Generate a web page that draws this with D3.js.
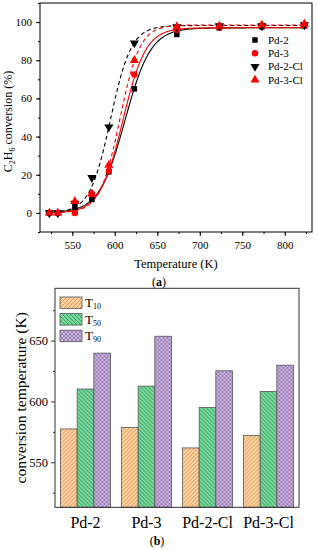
<!DOCTYPE html>
<html>
<head>
<meta charset="utf-8">
<script src="https://cdn.jsdelivr.net/npm/d3@7"></script>
<style>
body{margin:0;background:#fff}
svg, svg text{font-family:"Liberation Serif","Times New Roman",serif}
</style>
</head>
<body>
<svg id="chart" width="317" height="550"></svg>
<script>
// (a) conversion curves
const temps=[523,533,553,573,593,623,673,723,773,823];
const pd2=[0,0,3,7,21.5,65,93.5,97,97.5,98];
const pd3=[0,0,0,10,22,72.5,96,97,98,98];
const pd2cl=[0,0,5,18.5,45,89,97.5,98,98,98.5];
const pd3cl=[0,0,6,10,25,80,97.5,98,98.5,99];
const seriesNames=["Pd-2","Pd-3","Pd-2-Cl","Pd-3-Cl"];
// Boltzmann fit parameters
const fitTop=[97,97,98.2,98.5];
const fitX0=[612,609.5,595,606];
const fitDx=[15.2,13.5,12.2,11.8];

// (b) conversion temperatures
const samples=["Pd-2","Pd-3","Pd-2-Cl","Pd-3-Cl"];
const tKeys=["T10","T50","T90"];
const t10=[577.4,578.7,561.8,572.1];
const t50=[610.2,612.6,595.1,608.2];
const t90=[639.7,653.6,625.2,629.8];

const FONT='"Liberation Serif","Times New Roman",serif';
const svg=d3.select("#chart");
const defs=svg.append("defs");

function hatch(id,bg,col,d){
  const p=defs.append("pattern").attr("id",id).attr("patternUnits","userSpaceOnUse").attr("width",4).attr("height",4);
  p.append("rect").attr("width",4).attr("height",4).attr("fill",bg);
  p.append("path").attr("d",d).attr("stroke",col).attr("stroke-width",0.8).attr("fill","none");
}
hatch("p10","#FFD09C","#D48F55","M-1,1l2,-2M0,4l4,-4M3,5l2,-2");
hatch("p50","#76D79A","#2E8953","M-1,3l2,2M0,0l4,4M3,-1l2,2");
hatch("p90","#CFB7E3","#8B70A8","M-1,1l2,-2M0,4l4,-4M3,5l2,-2M-1,3l2,2M0,0l4,4M3,-1l2,2");

function styleAxis(g,size){
  g.select(".domain").remove();
  g.attr("font-family",FONT).attr("font-size",size);
  g.selectAll("text").attr("fill","#000");
}

// ---------- chart (a) ----------
const ax={l:40,r:312,t:3,b:232};
const x=d3.scaleLinear().domain([512,832]).range([ax.l,ax.r]);
const y=d3.scaleLinear().domain([-10,110]).range([ax.b,ax.t]);
const ga=svg.append("g");

ga.append("g").attr("transform","translate(0,"+ax.b+")")
  .call(d3.axisBottom(x).tickValues(d3.range(525,826,25)).tickSize(2).tickFormat(""))
  .call(styleAxis,11);
ga.append("g").attr("transform","translate(0,"+ax.b+")")
  .call(d3.axisBottom(x).tickValues(d3.range(550,801,50)).tickSize(4).tickPadding(5))
  .call(styleAxis,11);
ga.append("g").attr("transform","translate("+ax.l+",0)")
  .call(d3.axisLeft(y).tickValues(d3.range(-10,111,10)).tickSize(2).tickFormat(""))
  .call(styleAxis,11);
ga.append("g").attr("transform","translate("+ax.l+",0)")
  .call(d3.axisLeft(y).tickValues(d3.range(0,101,20)).tickSize(4).tickPadding(4))
  .call(styleAxis,11);
ga.selectAll(".tick line").attr("stroke","#000");

ga.append("rect").attr("x",ax.l).attr("y",ax.t).attr("width",ax.r-ax.l).attr("height",ax.b-ax.t)
  .attr("fill","none").attr("stroke","#000").attr("stroke-width",1);

const colors=["#000","#f00","#000","#f00"];
const dashes=[null,null,"4,3","4,3"];
const allVals=[pd2,pd3,pd2cl,pd3cl];
const xs=d3.range(520,826,1);
const line=d3.line().x(d=>x(d[0])).y(d=>y(d[1]));
seriesNames.forEach((n,i)=>{
  const pts=xs.map(t=>[t,fitTop[i]-fitTop[i]/(1+Math.exp((t-fitX0[i])/fitDx[i]))]);
  ga.append("path").attr("d",line(pts)).attr("fill","none").attr("stroke",colors[i])
    .attr("stroke-width",1.1).attr("stroke-dasharray",dashes[i]);
});

const symbols=[d3.symbol().type(d3.symbolSquare).size(30),d3.symbol().type(d3.symbolCircle).size(34),
  d3.symbol().type(d3.symbolTriangle).size(36),d3.symbol().type(d3.symbolTriangle).size(36)];
const rot=[0,0,180,0];
seriesNames.forEach((n,i)=>{
  ga.append("g").selectAll("path").data(temps.map((t,k)=>[t,allVals[i][k]])).join("path")
    .attr("d",symbols[i]()).attr("fill",colors[i])
    .attr("transform",d=>"translate("+x(d[0])+","+y(d[1])+") rotate("+rot[i]+")");
});

const lg=ga.append("g");
seriesNames.forEach((n,i)=>{
  const yy=40+i*13.3;
  lg.append("path").attr("d",symbols[i]()).attr("fill",colors[i])
    .attr("transform","translate(255,"+yy+") rotate("+rot[i]+")");
  lg.append("text").attr("x",268).attr("y",yy).attr("dy","0.35em").style("font-size","11px").text(n);
});

ga.append("text").attr("transform","translate(12,"+((ax.t+ax.b)/2+4)+") rotate(-90)")
  .attr("text-anchor","middle").style("font-size","12px")
  .call(t=>{t.append("tspan").text("C");t.append("tspan").attr("dy",3).style("font-size","8px").text("2");
    t.append("tspan").attr("dy",-3).text("H");t.append("tspan").attr("dy",3).style("font-size","8px").text("6");
    t.append("tspan").attr("dy",-3).text(" conversion (%)");});
ga.append("text").attr("x",(ax.l+ax.r)/2).attr("y",268).attr("text-anchor","middle")
  .style("font-size","12.5px").text("Temperature (K)");
ga.append("text").attr("x",159).attr("y",286).attr("text-anchor","middle").style("font-size","12px")
  .call(t=>{t.append("tspan").text("(");t.append("tspan").style("font-weight","bold").text("a");t.append("tspan").text(")");});

// ---------- chart (b) ----------
const bx={l:55,r:299,t:288.3,b:507.3};
const x0=d3.scaleBand().domain(samples).range([bx.l,bx.r]).paddingInner(0.18).paddingOuter(0.09);
const x1=d3.scaleBand().domain(tKeys).range([0,x0.bandwidth()]);
const yb=d3.scaleLinear().domain([513,693]).range([bx.b,bx.t]);
const gb=svg.append("g");
const tVals=[t10,t50,t90];
const fills=["url(#p10)","url(#p50)","url(#p90)"];

samples.forEach((s,i)=>{
  const g=gb.append("g").attr("transform","translate("+x0(s)+",0)");
  tKeys.forEach((k,j)=>{
    g.append("rect").attr("x",x1(k)).attr("y",yb(tVals[j][i])).attr("width",x1.bandwidth())
      .attr("height",bx.b-yb(tVals[j][i])).attr("fill",fills[j]).attr("stroke","#555").attr("stroke-width",0.8);
  });
});

gb.append("g").attr("transform","translate("+bx.l+",0)")
  .call(d3.axisLeft(yb).tickValues([525,575,625,675]).tickSize(2).tickFormat(""))
  .call(styleAxis,12.5);
gb.append("g").attr("transform","translate("+bx.l+",0)")
  .call(d3.axisLeft(yb).tickValues([550,600,650]).tickSize(4).tickPadding(3))
  .call(styleAxis,12.5);
gb.selectAll(".tick line").attr("stroke","#333");
gb.append("rect").attr("x",bx.l).attr("y",bx.t).attr("width",bx.r-bx.l).attr("height",bx.b-bx.t)
  .attr("fill","none").attr("stroke","#333").attr("stroke-width",1);

gb.selectAll("text.cat").data(samples).join("text").attr("class","cat")
  .attr("x",d=>x0(d)+x0.bandwidth()/2).attr("y",528).attr("text-anchor","middle")
  .style("font-size","16px").text(d=>d);

const lb=gb.append("g");
tKeys.forEach((k,j)=>{
  const yy=297+j*16.6;
  lb.append("rect").attr("x",60).attr("y",yy).attr("width",22).attr("height",11.5)
    .attr("fill",fills[j]).attr("stroke","#555").attr("stroke-width",0.8);
  lb.append("text").attr("x",85).attr("y",yy+10).style("font-size","13px")
    .call(t=>{t.append("tspan").text("T");t.append("tspan").attr("dy",2).style("font-size","8px").text(k.slice(1));});
});

gb.append("text").attr("transform","translate(26,"+((bx.t+bx.b)/2)+") rotate(-90)")
  .attr("text-anchor","middle").style("font-size","15.5px").text("conversion temperature (K)");
gb.append("text").attr("x",157).attr("y",545).attr("text-anchor","middle").style("font-size","12px")
  .call(t=>{t.append("tspan").text("(");t.append("tspan").style("font-weight","bold").text("b");t.append("tspan").text(")");});
</script>
</body>
</html>
